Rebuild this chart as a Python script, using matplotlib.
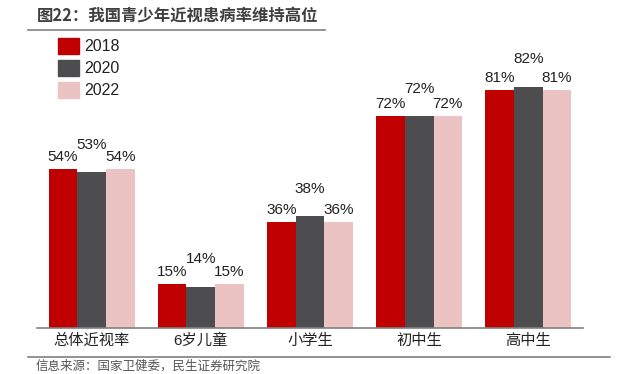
import matplotlib
matplotlib.use("Agg")
import matplotlib.pyplot as plt
from matplotlib.patches import Rectangle
from matplotlib.lines import Line2D
import numpy as np

title = "图22：我国青少年近视患病率维持高位"
source = "信息来源：国家卫健委，民生证券研究院"
categories = ["总体近视率", "6岁儿童", "小学生", "初中生", "高中生"]
series_names = ["2018", "2020", "2022"]
v2018 = [54, 15, 36, 72, 81]
v2020 = [53, 14, 38, 72, 82]
v2022 = [54, 15, 36, 72, 81]
colors = ["#C00000", "#4D4D4F", "#EBC3C3"]

W, H = 618, 374
fig = plt.figure(figsize=(W / 100, H / 100), dpi=100)
FONT = ["Liberation Sans", "Noto Sans CJK SC"]
CJK = ["Noto Sans CJK SC", "DejaVu Sans"]

def fx(px):
    return px / W

def fy(py):
    return 1 - py / H

ax_left, ax_right, ax_bottom, ax_top = 37, 583, 328, 34
ax = fig.add_axes([fx(ax_left), fy(ax_bottom), fx(ax_right - ax_left), (ax_bottom - ax_top) / H])
ax.set_xlim(-0.5, len(categories) - 0.5)
ax.set_ylim(0, 100)

x = np.arange(len(categories))
bw = 0.263
allvals = [v2018, v2020, v2022]
for i, (vals, c) in enumerate(zip(allvals, colors)):
    pos = x + (i - 1) * bw
    ax.bar(pos, vals, width=bw, color=c, zorder=2)
    for p, v in zip(pos, vals):
        off = 7.0 if i == 1 else 1.8
        ax.text(p, v + off, f"{v}%", ha="center", va="bottom", fontsize=11,
                family=FONT, color="#222222")

for s in ["top", "right", "left"]:
    ax.spines[s].set_visible(False)
ax.spines["bottom"].set_color("#808080")
ax.spines["bottom"].set_linewidth(1.2)
ax.set_yticks([])
ax.set_xticks(x)
ax.set_xticklabels(categories, fontsize=11, family=FONT, color="#222222")
ax.tick_params(axis="x", length=0, pad=4)

# legend
for i, (name, c) in enumerate(zip(series_names, colors)):
    top = 38 + i * 22
    fig.patches.append(Rectangle((fx(58), fy(top + 16)), fx(21), 16 / H,
                                 transform=fig.transFigure, color=c, figure=fig))
    fig.text(fx(84), fy(top + 8.5), name, ha="left", va="center", fontsize=11.5,
             family=FONT, color="#222222")

# title
fig.text(fx(37), fy(16), title, ha="left", va="center", fontsize=11.8,
         fontweight="bold", family=CJK, color="#404040")
fig.lines.append(Line2D([fx(28), fx(325)], [fy(29.5), fy(29.5)],
                        transform=fig.transFigure, color="#808080", lw=1.2))
fig.lines.append(Line2D([fx(28), fx(610)], [fy(357), fy(357)],
                        transform=fig.transFigure, color="#808080", lw=1.2))
fig.text(fx(36), fy(366), source, ha="left", va="center", fontsize=9,
         family=CJK, color="#555555")

fig.savefig("out.png", dpi=100)
